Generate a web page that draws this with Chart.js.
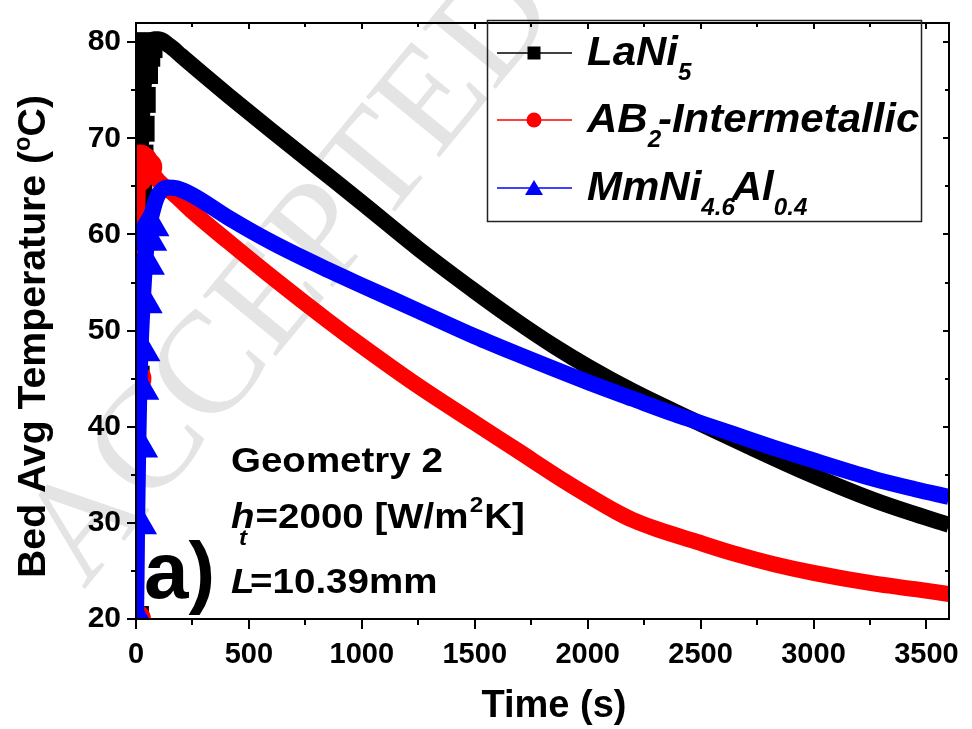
<!DOCTYPE html>
<html>
<head>
<meta charset="utf-8">
<script src="https://cdn.jsdelivr.net/npm/chart.js@4.4.1/dist/chart.umd.min.js"></script>
<style>
  html, body { margin: 0; padding: 0; background: #fff; }
  #wrap { width: 972px; height: 729px; }
</style>
</head>
<body>
<div id="wrap"><canvas id="c" width="972" height="729"></canvas></div>
<script>
// Bed average temperature during absorption, Geometry 2
const laniTime = [0, 3, 6, 10, 15, 20, 25, 30, 40, 50, 60, 80, 100, 150, 200, 300, 412, 600, 851, 1000, 1246, 1500, 1684, 1850, 2005, 2200, 2474, 2700, 2971, 3263, 3450, 3600];
const laniTemp = [20, 45, 55, 60, 64, 68, 71, 74, 77, 78.8, 79.7, 80.3, 80.3, 79.6, 78.6, 76.6, 74.4, 70.8, 66.1, 63.3, 58.6, 54.1, 51.0, 48.4, 46.2, 43.7, 40.6, 38.1, 35.2, 32.4, 30.9, 29.8];

const ab2Time = [0, 2, 5, 10, 18, 30, 50, 80, 120, 163, 250, 412, 600, 851, 1000, 1246, 1500, 1684, 1900, 2005, 2123, 2200, 2300, 2474, 2650, 2825, 3000, 3263, 3450, 3600];
const ab2Temp = [20, 45, 60, 66, 67.8, 67.6, 67.0, 66.1, 65.1, 64.3, 62.4, 59.2, 55.6, 51.0, 48.4, 44.3, 40.4, 37.6, 34.3, 32.8, 31.2, 30.3, 29.4, 28.1, 26.8, 25.7, 24.8, 23.7, 23.1, 22.6];

const mmTime = [0, 5, 10, 15, 20, 30, 40, 50, 60, 80, 100, 140, 180, 250, 412, 600, 851, 1000, 1246, 1500, 1684, 2005, 2200, 2386, 2474, 2650, 2825, 2971, 3263, 3450, 3600];
const mmTemp = [20, 30, 38, 44, 48, 53, 57, 59.5, 61, 63, 64.2, 64.9, 64.8, 64.1, 61.7, 59.2, 56.3, 54.7, 52.1, 49.4, 47.6, 44.6, 42.9, 41.3, 40.6, 39.2, 37.8, 36.7, 34.6, 33.5, 32.7];

const seriesNames = ['LaNi5', 'AB2-Intermetallic', 'MmNi4.6Al0.4'];
const seriesColors = ['#000000', '#ff0000', '#0000ff'];
const seriesMarkers = ['rect', 'circle', 'triangle'];

// legend labels with subscripts: [text, isSubscript]
const legendParts = [
  [['LaNi', false], ['5', true]],
  [['AB', false], ['2', true], ['-Intermetallic', false]],
  [['MmNi', false], ['4.6', true], ['Al', false], ['0.4', true]]
];

const xTickMin = 0, xTickMax = 3600, xMinorStep = 250, xMajorStep = 500;
const yTickMin = 20, yTickMax = 82, yMinorStep = 5, yMajorStep = 10;

const FONT = '"Liberation Sans", Arial, sans-serif';

const pairs = (t, v) => t.map((x, i) => ({ x, y: v[i] }));

function makeSet(i, t, v, order) {
  return {
    label: seriesNames[i],
    data: pairs(t, v),
    borderColor: seriesColors[i],
    backgroundColor: seriesColors[i],
    borderWidth: 16,
    pointStyle: seriesMarkers[i],
    pointRadius: c => (c.raw && c.raw.x <= 60 ? 7 : 0),
    pointHoverRadius: 0,
    cubicInterpolationMode: 'monotone',
    borderJoinStyle: 'round',
    borderCapStyle: 'butt',
    clip: 0,
    order
  };
}

// faint diagonal manuscript stamp behind everything
const stamp = {
  id: 'stamp',
  beforeDraw(chart) {
    const ctx = chart.ctx;
    ctx.save();
    ctx.fillStyle = '#fff';
    ctx.fillRect(0, 0, chart.width, chart.height);
    ctx.translate(84, 590);
    ctx.rotate(-50.6 * Math.PI / 180);
    ctx.font = '145px "Liberation Serif", serif';
    ctx.fillStyle = '#e4e4e4';
    ctx.textBaseline = 'alphabetic';
    ctx.fillText('ACCEPTED MANUSCRIPT', 0, 0);
    ctx.restore();
  }
};

// frame with outward ticks on left/bottom and inward ticks on top/right
const frame = {
  id: 'frame',
  afterDatasetsDraw(chart) {
    const { ctx, chartArea: a, scales: { x, y } } = chart;
    ctx.save();
    ctx.strokeStyle = '#000';
    ctx.lineWidth = 2;
    ctx.beginPath();
    x.ticks.forEach(t => {
      if (t.value % xMinorStep !== 0) return;
      const px = Math.round(x.getPixelForValue(t.value));
      const major = t.value % xMajorStep === 0;
      const out = major ? 10 : 6, inn = major ? 6 : 4;
      ctx.moveTo(px, a.bottom); ctx.lineTo(px, a.bottom + out);
      ctx.moveTo(px, a.top); ctx.lineTo(px, a.top + inn);
    });
    y.ticks.forEach(t => {
      if (t.value % yMinorStep !== 0) return;
      const py = Math.round(y.getPixelForValue(t.value));
      const major = t.value % yMajorStep === 0;
      const out = major ? 9 : 5, inn = major ? 6 : 4;
      ctx.moveTo(a.left, py); ctx.lineTo(a.left - out, py);
      ctx.moveTo(a.right, py); ctx.lineTo(a.right - inn, py);
    });
    ctx.stroke();
    ctx.strokeRect(a.left, a.top, a.right - a.left, a.bottom - a.top);
    ctx.restore();
  }
};

function drawMarker(ctx, style, cx, cy, color) {
  ctx.fillStyle = color;
  ctx.beginPath();
  if (style === 'rect') {
    ctx.rect(cx - 6.5, cy - 6.5, 13, 13);
  } else if (style === 'circle') {
    ctx.arc(cx, cy, 7.5, 0, Math.PI * 2);
  } else {
    ctx.moveTo(cx, cy - 8);
    ctx.lineTo(cx + 9, cy + 7);
    ctx.lineTo(cx - 9, cy + 7);
    ctx.closePath();
  }
  ctx.fill();
}

// legend box, annotation block and axis titles
const texts = {
  id: 'texts',
  afterDraw(chart) {
    const ctx = chart.ctx;
    ctx.save();
    ctx.textBaseline = 'alphabetic';
    ctx.fillStyle = '#000';

    // legend
    ctx.strokeStyle = '#222';
    ctx.lineWidth = 1.5;
    ctx.strokeRect(487.5, 20.5, 434, 201);
    const rowsY = [53, 120, 188];
    rowsY.forEach((ry, i) => {
      ctx.strokeStyle = seriesColors[i];
      ctx.lineWidth = 1.3;
      ctx.beginPath();
      ctx.moveTo(497, ry); ctx.lineTo(572, ry);
      ctx.stroke();
      drawMarker(ctx, seriesMarkers[i], 534, ry, seriesColors[i]);
      const base = ry + 12;
      ctx.fillStyle = '#000';
      ctx.save();
      ctx.translate(587, 0);
      ctx.scale(1.05, 1);
      let tx = 0;
      legendParts[i].forEach(([s, sub]) => {
        ctx.font = sub ? 'italic bold 23px ' + FONT : 'italic bold 40px ' + FONT;
        ctx.fillText(s, tx, sub ? base + 15 : base);
        tx += ctx.measureText(s).width + (sub ? -3 : 0);
      });
      ctx.restore();
    });

    // annotation block
    ctx.fillStyle = '#000';
    ctx.save();
    ctx.translate(231, 0);
    ctx.scale(1.1, 1);
    ctx.font = 'bold 35px ' + FONT;
    ctx.fillText('Geometry 2', 0, 472);

    ctx.font = 'italic bold 35px ' + FONT;
    ctx.fillText('h', 0, 528);
    let w = ctx.measureText('h').width;
    ctx.font = 'italic bold 22px ' + FONT;
    ctx.fillText('t', w - 14, 545);
    ctx.font = 'bold 35px ' + FONT;
    let px = w + 1;
    ctx.fillText('=2000 [W/m', px, 528);
    px += ctx.measureText('=2000 [W/m').width;
    ctx.font = 'bold 22px ' + FONT;
    ctx.fillText('2', px + 1, 512);
    px += ctx.measureText('2').width + 2;
    ctx.font = 'bold 35px ' + FONT;
    ctx.fillText('K]', px, 528);

    ctx.font = 'italic bold 35px ' + FONT;
    ctx.fillText('L', 0, 593);
    w = ctx.measureText('L').width;
    ctx.font = 'bold 35px ' + FONT;
    ctx.fillText('=10.39mm', w - 4, 593);
    ctx.restore();

    ctx.font = 'bold 80px ' + FONT;
    ctx.fillText('a)', 144, 598);

    // x title
    ctx.font = 'bold 38px ' + FONT;
    ctx.textAlign = 'center';
    ctx.fillText('Time (s)', 554, 717);
    ctx.textAlign = 'left';

    // y title with superscript degree mark
    const yParts = [['Bed Avg Temperature (', 38, 0], ['o', 23, -15], ['C)', 38, 0]];
    let total = 0;
    yParts.forEach(([s, size]) => { ctx.font = 'bold ' + size + 'px ' + FONT; total += ctx.measureText(s).width; });
    ctx.save();
    ctx.translate(45, 578);
    ctx.rotate(-Math.PI / 2);
    ctx.scale(483 / total, 1);
    let yx = 0;
    yParts.forEach(([s, size, dy]) => {
      ctx.font = 'bold ' + size + 'px ' + FONT;
      ctx.fillText(s, yx, dy);
      yx += ctx.measureText(s).width;
    });
    ctx.restore();
    ctx.restore();
  }
};

new Chart(document.getElementById('c'), {
  type: 'line',
  data: {
    datasets: [
      makeSet(0, laniTime, laniTemp, 3),
      makeSet(1, ab2Time, ab2Temp, 2),
      makeSet(2, mmTime, mmTemp, 1)
    ]
  },
  options: {
    responsive: false,
    animation: false,
    devicePixelRatio: 1,
    layout: { padding: { left: 0, right: 15, top: 13, bottom: 0 } },
    plugins: { legend: { display: false }, tooltip: { enabled: false } },
    scales: {
      x: {
        type: 'linear',
        min: xTickMin,
        max: xTickMax,
        grid: { display: false, drawTicks: false },
        border: { display: false },
        ticks: {
          stepSize: xMinorStep,
          includeBounds: false,
          autoSkip: false,
          maxRotation: 0,
          padding: 19,
          color: '#000',
          font: { family: FONT, size: 29, weight: 'bold' },
          callback: v => (v % xMajorStep === 0 ? String(v) : '')
        },
        afterFit: s => { s.height = 110; s.paddingLeft = 0; s.paddingRight = 0; }
      },
      y: {
        type: 'linear',
        min: yTickMin,
        max: yTickMax,
        grid: { display: false, drawTicks: false },
        border: { display: false },
        ticks: {
          stepSize: yMinorStep,
          includeBounds: false,
          autoSkip: false,
          padding: 15,
          color: '#000',
          font: { family: FONT, size: 30, weight: 'bold' },
          callback: v => (v % yMajorStep === 0 ? String(v) : '')
        },
        afterFit: s => { s.width = 136; s.paddingTop = 0; s.paddingBottom = 0; }
      }
    }
  },
  plugins: [stamp, frame, texts]
});
</script>
</body>
</html>
